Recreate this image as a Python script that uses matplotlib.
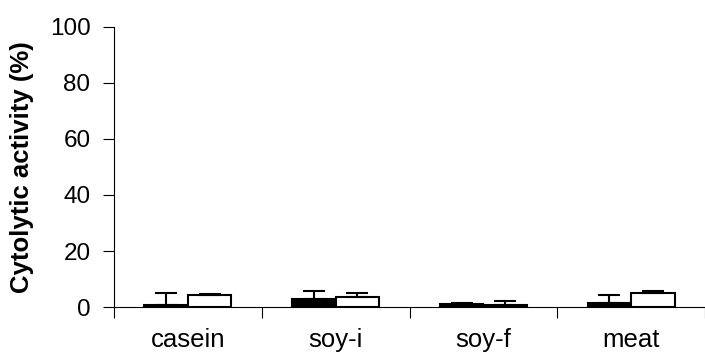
import matplotlib
matplotlib.use("Agg")
import matplotlib.pyplot as plt
import numpy as np

plt.rcParams['font.family'] = ['Liberation Sans', 'DejaVu Sans']

categories = ["casein", "soy-i", "soy-f", "meat"]
black_vals = [0.8, 3.0, 0.9, 1.6]
black_err = [4.2, 2.7, 0.5, 2.8]
white_vals = [4.4, 3.6, 0.8, 5.0]
white_err = [0.2, 1.4, 1.3, 0.7]

fig = plt.figure(figsize=(7.05, 3.56), dpi=100)
ax = fig.add_axes([114 / 705, 49 / 356, 591 / 705, 280 / 356])

x = np.arange(len(categories))
w = 0.295
ax.bar(x - w / 2, black_vals, w, color="black", edgecolor="black", linewidth=1.5)
ax.bar(x + w / 2, white_vals, w, color="white", edgecolor="black", linewidth=1.5)

# only upward error bars
ax.errorbar(x - w / 2, black_vals, yerr=[np.zeros(4), black_err], fmt="none",
            ecolor="black", elinewidth=1.5, capsize=8, capthick=1.5)
ax.errorbar(x + w / 2, white_vals, yerr=[np.zeros(4), white_err], fmt="none",
            ecolor="black", elinewidth=1.5, capsize=8, capthick=1.5)

ax.set_ylim(0, 100)
ax.set_xlim(-0.5, 3.47)
ax.set_yticks(range(0, 101, 20))
ax.tick_params(axis="y", labelsize=17.5, length=8, width=0.8, direction="out", pad=9)

# ticks at category boundaries, labels at centers
ax.set_xticks(np.arange(-0.5, 3.6, 1.0))
ax.set_xticklabels([])
ax.set_xticks(x, minor=True)
ax.set_xticklabels(categories, minor=True, fontsize=18.5)
ax.tick_params(axis="x", which="major", length=8, width=0.8)
ax.tick_params(axis="x", which="minor", length=0, pad=15)

for s in ["top", "right"]:
    ax.spines[s].set_visible(False)
for s in ["left", "bottom"]:
    ax.spines[s].set_linewidth(0.8)

ax.set_ylabel("Cytolytic activity (%)", fontsize=18.5, fontweight="bold", labelpad=11)

fig.savefig("out.png", dpi=100)
